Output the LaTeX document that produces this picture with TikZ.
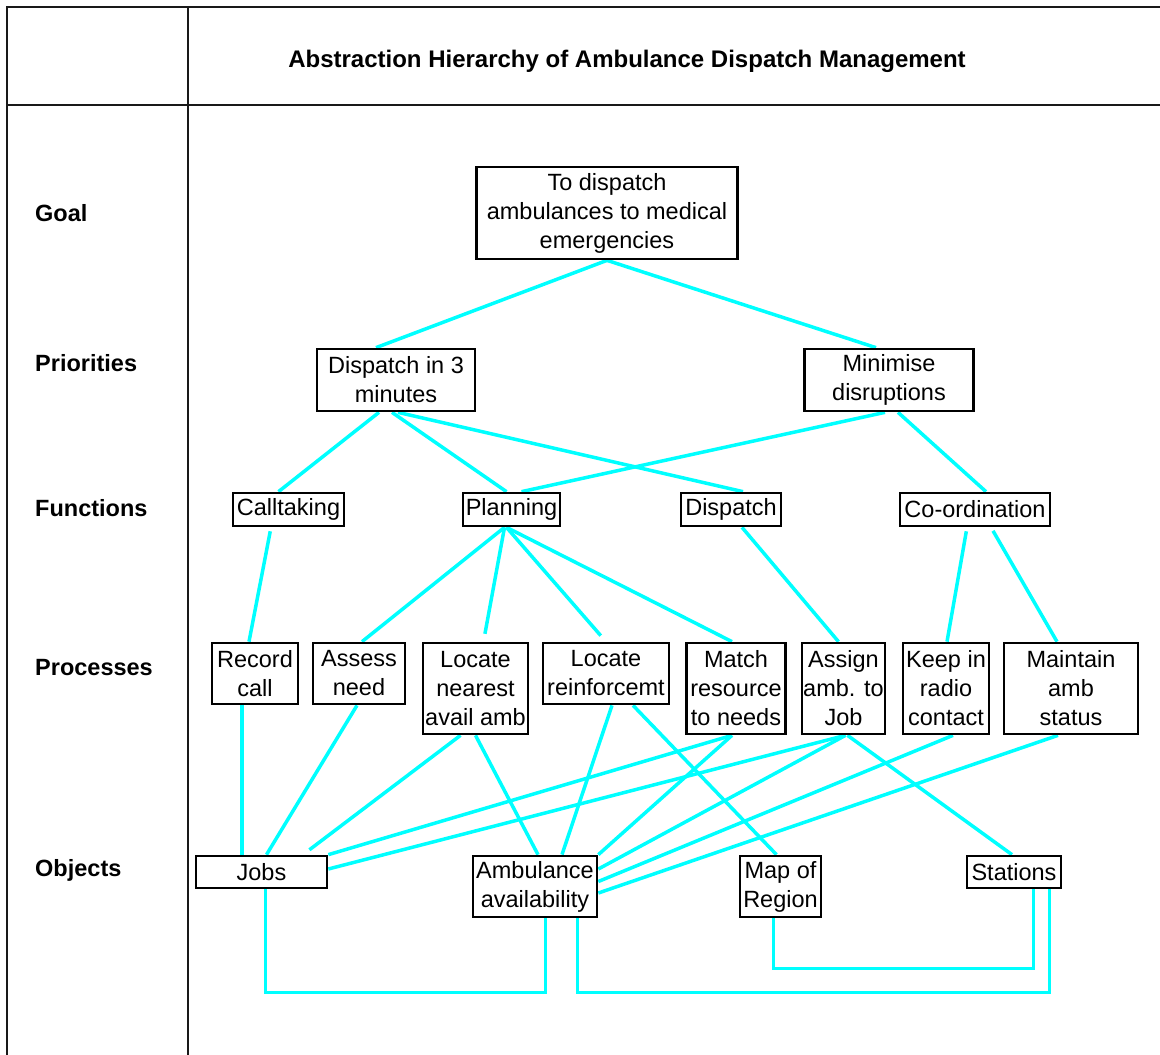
\documentclass[tikz,border=0pt]{standalone}
\usepackage{fontspec}
\setmainfont{Liberation Sans}
\usetikzlibrary{calc,backgrounds}
\definecolor{lnk}{HTML}{00FFFF}
\tikzset{
  box/.style={draw=black, line width=2.7pt, fill=white, inner xsep=1pt, inner ysep=0pt, align=center, font=\fontsize{23.5}{29}\selectfont},
  lvl/.style={anchor=west, inner sep=0pt, font=\fontsize{23.5}{29}\selectfont\bfseries},
  ttl/.style={inner sep=0pt, font=\fontsize{24}{29}\selectfont\bfseries},
  link/.style={draw=lnk, line width=3.5pt},
  frm/.style={draw=black!90, line width=2.5pt}
}
\begin{document}
\begin{tikzpicture}[x=1pt,y=-1pt]
\useasboundingbox (0,0) rectangle (1160,1055);
% frame
\draw[frm] (1160,7) -- (7,7) -- (7,1055);
\draw[frm] (188,7) -- (188,1055);
\draw[frm] (7,105) -- (1160,105);
\node[ttl] (title) at (627,61) {Abstraction Hierarchy of Ambulance Dispatch Management};
% level labels
\node[lvl] (lgoal) at (35,213) {Goal};
\node[lvl] (lprio) at (35,363) {Priorities};
\node[lvl] (lfunc) at (35,508) {Functions};
\node[lvl] (lproc) at (35,668) {Processes};
\node[lvl] (lobj)  at (35,870) {Objects};
% goal
\node[box, minimum width=261pt, minimum height=92pt] (goal) at (607,213) {To dispatch\\ambulances to medical\\emergencies};
% priorities
\node[box, minimum width=158pt, minimum height=62pt] (d3) at (396,380) {Dispatch in 3\\minutes};
\node[box, minimum width=169pt, minimum height=62pt] (mini) at (889,380) {Minimise\\disruptions};
% functions
\node[box, minimum width=111pt, minimum height=33pt] (call) at (288.5,509.5) {Calltaking};
\node[box, minimum width=97pt, minimum height=33pt] (plan) at (511.5,509.5) {Planning};
\node[box, minimum width=100pt, minimum height=33pt] (disp) at (731,509.5) {Dispatch};
\node[box, minimum width=150pt, minimum height=33pt] (coord) at (975,509.5) {Co-ordination};
% processes
\node[box, minimum width=86pt, minimum height=61pt] (rec) at (255,673.5) {Record\\call};
\node[box, minimum width=92pt, minimum height=61pt] (assess) at (359,673.5) {Assess\\need};
\node[box, minimum width=105pt, minimum height=91pt] (locn) at (475.5,688.5) {Locate\\nearest\\avail amb};
\node[box, minimum width=126pt, minimum height=61pt] (locr) at (606,673.5) {Locate\\reinforcemt};
\node[box, minimum width=99pt, minimum height=91pt] (match) at (736,688.5) {Match\\resource\\to needs};
\node[box, minimum width=83pt, minimum height=91pt] (assign) at (843.5,688.5) {Assign\\amb. to\\Job};
\node[box, minimum width=86pt, minimum height=91pt] (keep) at (946,688.5) {Keep in\\radio\\contact};
\node[box, minimum width=134pt, minimum height=91pt] (maint) at (1071,688.5) {Maintain\\amb\\status};
% objects
\node[box, minimum width=131pt, minimum height=32pt] (jobs) at (261.5,872) {Jobs};
\node[box, minimum width=124pt, minimum height=61pt] (amb) at (535,886.5) {Ambulance\\availability};
\node[box, minimum width=81pt, minimum height=61pt] (map) at (780.5,886.5) {Map of\\Region};
\node[box, minimum width=94pt, minimum height=32pt] (stat) at (1014,872) {Stations};
\coordinate (busA) at (545,992);
\coordinate (busB) at (1049,992);
\coordinate (busC) at (1033,968);
\begin{scope}[on background layer]
\fill[white] (0,0) rectangle (1160,1055);
\draw[link] (goal.south) -- ([xshift=-20pt]d3.north);
\draw[link] (goal.south) -- ([xshift=-13pt]mini.north);
\draw[link] ([xshift=-17pt]d3.south) -- ([xshift=-10pt]call.north);
\draw[link] ([xshift=-4pt]d3.south) -- ([xshift=-5pt]plan.north);
\draw[link] ([xshift=2pt]d3.south) -- ([xshift=12pt]disp.north);
\draw[link] ([xshift=-4pt]mini.south) -- ([xshift=10pt]plan.north);
\draw[link] ([xshift=9pt]mini.south) -- ([xshift=11pt]coord.north);
\draw[link, shorten <=4pt] ([xshift=-17.5pt]call.south) -- ([xshift=-6pt]rec.north);
\draw[link] ([xshift=-7pt]plan.south) -- ([xshift=3pt]assess.north);
\draw[link, shorten >=8pt] ([xshift=-7pt]plan.south) -- ([xshift=8pt]locn.north);
\draw[link, shorten >=8pt] ([xshift=-5pt]plan.south) -- ([xshift=0pt]locr.north);
\draw[link] ([xshift=-5pt]plan.south) -- ([xshift=-4pt]match.north);
\draw[link] ([xshift=11pt]disp.south) -- ([xshift=-5pt]assign.north);
\draw[link, shorten <=4pt] ([xshift=-8pt]coord.south) -- ([xshift=1pt]keep.north);
\draw[link, shorten <=4pt] ([xshift=16pt]coord.south) -- ([xshift=-14pt]maint.north);
\draw[link] ([xshift=-13pt]rec.south) -- ([xshift=-19.5pt]jobs.north);
\draw[link] ([xshift=-2pt]assess.south) -- ([xshift=5pt]jobs.north);
\draw[link, shorten >=8pt] ([xshift=-15pt]locn.south) -- ([xshift=41.5pt]jobs.north);
\draw[link] (locn.south) -- ([xshift=3pt]amb.north);
\draw[link] ([xshift=6pt]locr.south) -- ([xshift=27pt]amb.north);
\draw[link] ([xshift=27pt]locr.south) -- ([xshift=-4pt]map.north);
\draw[link] ([xshift=-4pt]match.south) -- (jobs.north east);
\draw[link] ([xshift=-4pt]match.south) -- (amb.north east);
\draw[link] ([xshift=2pt]assign.south) -- ([yshift=3pt]jobs.east);
\draw[link] ([xshift=2pt]assign.south) -- ([yshift=17.5pt]amb.east);
\draw[link] ([xshift=4pt]assign.south) -- ([xshift=-2pt]stat.north);
\draw[link] ([xshift=7pt]keep.south) -- ([yshift=5pt]amb.east);
\draw[link] ([xshift=-13pt]maint.south) -- ([yshift=-6.5pt]amb.east);
\draw[link, line width=3pt] ([xshift=4pt]jobs.south) |- (busA) -- ([xshift=10pt]amb.south);
\draw[link, line width=3pt] ([xshift=42pt]amb.south) |- (busB) -- ([xshift=35pt]stat.south);
\draw[link, line width=3pt] ([xshift=-7.5pt]map.south) |- (busC) -- ([xshift=19pt]stat.south);
\end{scope}
\end{tikzpicture}
\end{document}
